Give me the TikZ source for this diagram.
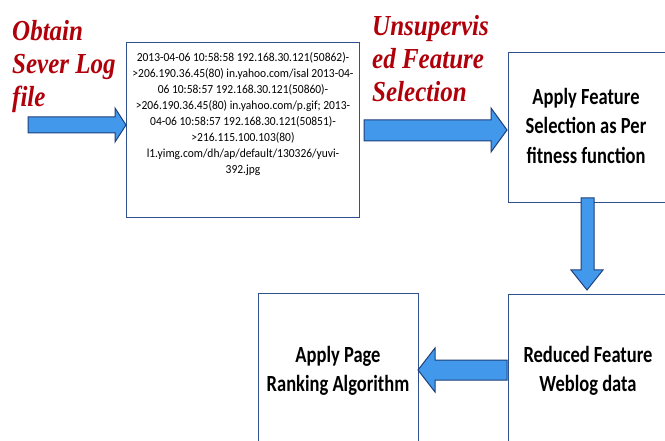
\documentclass[tikz,border=0pt]{standalone}
\usepackage{fontspec}
\usepackage{graphicx}
\setmainfont{Carlito}
\newfontfamily\redfont{Liberation Serif}
\newcommand\stretchtxt[3]{\scalebox{1}[#1]{\begin{tabular}{@{}#2@{}}#3\end{tabular}}}
\begin{document}
\begin{tikzpicture}[x=1pt,y=-1pt,
  boxstyle/.style={draw={rgb,255:red,47;green,82;blue,143},line width=1.1pt,fill=white},
  arrowstyle/.style={draw={rgb,255:red,31;green,63;blue,122},line width=1pt,fill={rgb,255:red,66;green,153;blue,235},line join=miter},
  redtext/.style={text={rgb,255:red,176;green,0;blue,10},font=\redfont\bfseries\itshape\fontsize{25}{28.5}\selectfont,anchor=north west,inner sep=0pt},
  boxtext/.style={font=\bfseries\fontsize{18.5}{23.5}\selectfont,inner sep=0pt},
  logtext/.style={font=\fontsize{11.5}{15}\selectfont,inner sep=0pt}
]
\useasboundingbox (0,0) rectangle (665,441);
\begin{scope}
\clip (0,0) rectangle (665,441);
% boxes
\node[boxstyle,minimum width=233pt,minimum height=175pt,anchor=north west,inner sep=0pt] (log) at (126,42) {};
\node[boxstyle,minimum width=162pt,minimum height=150pt,anchor=north west,inner sep=0pt] (sel) at (508,52) {};
\node[boxstyle,minimum width=162pt,minimum height=152pt,anchor=north west,inner sep=0pt] (red) at (508,294) {};
\node[boxstyle,minimum width=160pt,minimum height=153pt,anchor=north west,inner sep=0pt] (rank) at (258,293) {};
% texts
\node[logtext] (logt) at (243,114) {\stretchtxt{1.07}{c}{2013-04-06 10:58:58 192.168.30.121(50862)-\\>206.190.36.45(80) in.yahoo.com/isal 2013-04-\\06 10:58:57 192.168.30.121(50860)-\\>206.190.36.45(80) in.yahoo.com/p.gif; 2013-\\04-06 10:58:57 192.168.30.121(50851)-\\>216.115.100.103(80)\\l1.yimg.com/dh/ap/default/130326/yuvi-\\392.jpg}};
\node[boxtext] (selt) at (586,128) {\stretchtxt{1.25}{c}{Apply Feature\\Selection as Per\\fitness function}};
\node[boxtext] (redt) at (588,371) {\stretchtxt{1.25}{c}{Reduced Feature\\Weblog data}};
\node[boxtext] (rankt) at (338,371) {\stretchtxt{1.25}{c}{Apply Page\\Ranking Algorithm}};
\node[redtext] (lab1) at (12,17) {\stretchtxt{1.16}{l}{Obtain\\Sever Log\\file}};
\node[redtext] (lab2) at (372,12) {\stretchtxt{1.16}{l}{Unsupervis\\ed Feature\\Selection}};
% block arrows
\draw[arrowstyle] (28,117) -- (115,117) -- (115,108) -- (126,125) -- (115,142) -- (115,133) -- (28,133) -- cycle;
\draw[arrowstyle] (364,120) -- (491,120) -- (491,108) -- (507,130) -- (491,152) -- (491,141) -- (364,141) -- cycle;
\draw[arrowstyle] (581,198) -- (594,198) -- (594,270) -- (603,270) -- (587,290) -- (571,270) -- (581,270) -- cycle;
\draw[arrowstyle] (507,360) -- (435,360) -- (435,348) -- (418,370) -- (435,392) -- (435,380) -- (507,380) -- cycle;
\end{scope}
\end{tikzpicture}
\end{document}
